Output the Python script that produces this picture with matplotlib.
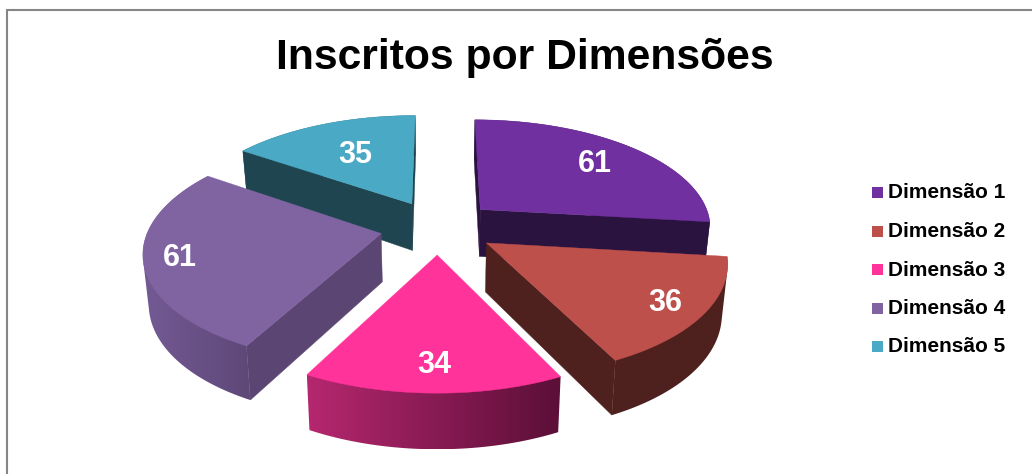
import numpy as np
import matplotlib
matplotlib.use('Agg')
import matplotlib.pyplot as plt
from matplotlib.colors import to_rgb
from matplotlib.patches import Polygon, Rectangle

plt.rcParams['font.family'] = ['Liberation Sans', 'DejaVu Sans']

categories = ['Dimensão 1', 'Dimensão 2', 'Dimensão 3', 'Dimensão 4', 'Dimensão 5']
values = [61, 36, 34, 61, 35]
top_colors = ['#7030A0', '#BE504B', '#FF3399', '#8064A2', '#4AA9C4']
side_colors = ['#2B1340', '#4E201E', '#5A4672', '#5B4673', '#1F4650']
# shading of the curved rim, left to right
rim_left = ['#2B1340', '#4E201E', '#B5276F', '#735A94', '#1F4650']
rim_right = ['#2B1340', '#4E201E', '#5C0F38', '#5E4877', '#1F4650']
label_radius = [0.994, 1.088, 1.065, 1.10, 0.858]
draw_order = [4, 0, 3, 1, 2]

title = 'Inscritos por Dimensões'
explode = 0.25

# projection of the tilted pie onto the canvas
cx, cy = 438, 227
scale_x, scale_y = 232, 108
persp = 0.15


def project(u, v):
    d = 1 + persp * v
    return cx + scale_x * u / d, cy - scale_y * v / d


def lower(x, y, v):
    # same point on the underside of the slice
    return cx + (x - cx) * 0.98, y + 48 - 6.5 * v


def shoelace(pts):
    pts = np.array(pts)
    x, y = pts[:, 0], pts[:, 1]
    return np.dot(x, np.roll(y, -1)) - np.dot(y, np.roll(x, -1))


def convex_hull(points):
    points = sorted(points)

    def half(seq):
        out = []
        for p in seq:
            while len(out) > 1 and (out[-1][0] - out[-2][0]) * (p[1] - out[-2][1]) \
                    - (out[-1][1] - out[-2][1]) * (p[0] - out[-2][0]) <= 0:
                out.pop()
            out.append(p)
        return out[:-1]

    return half(points) + half(points[::-1])


def draw_slice(ax, i, start, end, z):
    mid = (start + end) / 2
    u0 = explode * np.sin(mid)
    v0 = explode * np.cos(mid)
    angles = np.linspace(start, end, 80)
    u = u0 + np.sin(angles)
    v = v0 + np.cos(angles)
    x, y = project(u, v)
    ax0, ay0 = project(u0, v0)
    bx, by = lower(x, y, v)
    bax, bay = lower(ax0, ay0, v0)

    # curved rim with a horizontal gradient, clipped to its outline
    outline = convex_hull(list(zip(x, y)) + list(zip(bx, by)))
    rim = Polygon(outline, fc='none', ec='none', transform=ax.transData)
    ax.add_patch(rim)
    c0 = np.array(to_rgb(rim_left[i]))
    c1 = np.array(to_rgb(rim_right[i]))
    ramp = np.array([[c0 + (c1 - c0) * t for t in np.linspace(0, 1, 64)]])
    xs = [p[0] for p in outline]
    ys = [p[1] for p in outline]
    img = ax.imshow(ramp, extent=[min(xs), max(xs), max(ys), min(ys)], aspect='auto',
                    interpolation='bilinear', zorder=z)
    img.set_clip_path(rim)

    # flat cut faces, only the ones turned towards the viewer
    for k, sign in [(0, -1), (-1, 1)]:
        face = [(ax0, ay0), (x[k], y[k]), (bx[k], by[k]), (bax, bay)]
        if shoelace(face) * sign > 0:
            ax.add_patch(Polygon(face, fc=side_colors[i], ec=side_colors[i], lw=0.3, zorder=z + 1))

    top = [(ax0, ay0)] + list(zip(x, y))
    ax.add_patch(Polygon(top, fc=top_colors[i], ec=top_colors[i], lw=0.3, zorder=z + 2))


def main():
    fig = plt.figure(figsize=(10.32, 4.74), dpi=100)
    ax = fig.add_axes([0, 0, 1, 1])
    ax.axis('off')

    # chart frame, only the left and top edges show
    ax.plot([7, 7], [474, 10], color='#868686', lw=1.5, solid_capstyle='butt')
    ax.plot([6.3, 1032], [10, 10], color='#868686', lw=1.5, solid_capstyle='butt')

    edges = np.concatenate([[0], np.cumsum(values)]) / sum(values) * 2 * np.pi
    for n, i in enumerate(draw_order):
        draw_slice(ax, i, edges[i], edges[i + 1], 10 + n * 5)

    for i in range(len(values)):
        mid = (edges[i] + edges[i + 1]) / 2
        lx, ly = project(label_radius[i] * np.sin(mid), label_radius[i] * np.cos(mid))
        ax.text(lx, ly + 1.5, str(values[i]), color='white', fontsize=22, fontweight='bold',
                ha='center', va='center', zorder=60)

    ax.text(525, 58, title, fontsize=30.7, fontweight='bold', ha='center', va='center')

    row_y = [192.5, 231, 269.5, 308, 346.5]
    for i in range(len(categories)):
        ax.add_patch(Rectangle((872, row_y[i] - 5.5), 11, 11, fc=top_colors[i], ec='none'))
        ax.text(888, row_y[i] + 0.5, categories[i], fontsize=15, fontweight='bold',
                ha='left', va='center')

    # pixel canvas, y runs downwards
    ax.set_xlim(0, 1032)
    ax.set_ylim(474, 0)

    fig.savefig('out.png', dpi=100, facecolor='white')


if __name__ == '__main__':
    main()
